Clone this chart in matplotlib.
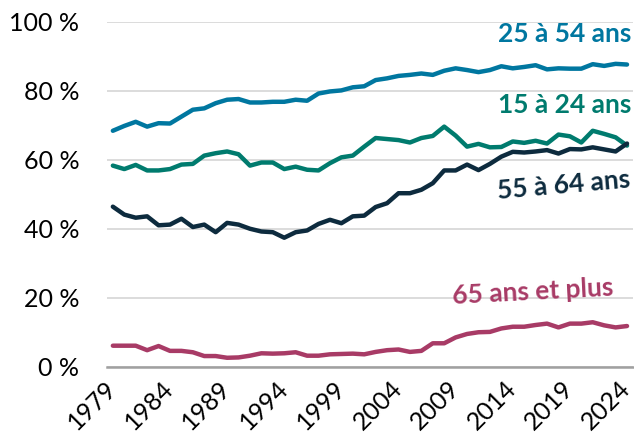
import numpy as np
import matplotlib
matplotlib.use("Agg")
import matplotlib.pyplot as plt

plt.rcParams['font.family'] = ['Lato', 'DejaVu Sans']

# taux d'emploi par groupe d'âge, 1979-2024 (%)
years = np.arange(1979, 2025)

age_25_54 = [68.4, 69.8, 71.0, 69.6, 70.6, 70.5, 72.5, 74.5, 74.9, 76.4,
             77.4, 77.6, 76.6, 76.6, 76.8, 76.8, 77.4, 77.1, 79.2, 79.8,
             80.1, 81.0, 81.3, 83.1, 83.6, 84.3, 84.6, 85.0, 84.6, 85.8,
             86.5, 86.0, 85.4, 86.0, 87.1, 86.5, 86.9, 87.4, 86.2, 86.5,
             86.4, 86.4, 87.7, 87.2, 87.8, 87.6]

age_15_24 = [58.3, 57.3, 58.5, 56.9, 56.9, 57.3, 58.6, 58.8, 61.2, 61.9,
             62.4, 61.6, 58.3, 59.2, 59.2, 57.3, 58.0, 57.1, 56.9, 59.0,
             60.7, 61.2, 63.8, 66.3, 66.0, 65.7, 65.0, 66.3, 66.9, 69.6,
             67.0, 63.8, 64.6, 63.6, 63.7, 65.3, 64.9, 65.5, 64.7, 67.3,
             66.8, 65.0, 68.4, 67.5, 66.5, 64.1]

age_55_64 = [46.4, 44.1, 43.2, 43.6, 41.0, 41.2, 42.9, 40.5, 41.2, 39.0,
             41.7, 41.2, 40.0, 39.2, 39.0, 37.4, 39.0, 39.5, 41.4, 42.6,
             41.6, 43.6, 43.8, 46.3, 47.4, 50.3, 50.3, 51.3, 53.2, 56.9,
             56.9, 58.6, 57.0, 58.8, 60.9, 62.3, 62.1, 62.4, 62.8, 61.8,
             63.1, 63.0, 63.6, 63.0, 62.4, 64.7]

age_65_plus = [6.1, 6.1, 6.1, 4.8, 6.0, 4.6, 4.6, 4.2, 3.1, 3.1,
               2.6, 2.7, 3.2, 3.9, 3.8, 3.9, 4.2, 3.2, 3.2, 3.6,
               3.7, 3.8, 3.6, 4.3, 4.8, 5.0, 4.3, 4.6, 6.8, 6.8,
               8.5, 9.5, 10.0, 10.1, 11.1, 11.6, 11.6, 12.1, 12.5, 11.4,
               12.5, 12.5, 12.9, 12.0, 11.4, 11.8]

labels = ["25 à 54 ans", "15 à 24 ans", "55 à 64 ans", "65 ans et plus"]
colors = ["#0077A0", "#007B6E", "#0D2B3E", "#A83B66"]
series = [age_25_54, age_15_24, age_55_64, age_65_plus]

fig = plt.figure(figsize=(6.34, 4.44), dpi=100)
ax = fig.add_axes([0.169, 0.174, 0.829, 0.777])

for vals, c in zip(series, colors):
    ax.plot(years, vals, color=c, lw=3.2, solid_capstyle='round',
            solid_joinstyle='round', zorder=3)

ax.set_xlim(1978.5, 2024.5)
ax.set_ylim(0, 100)
ax.set_yticks(np.arange(0, 101, 20))
ax.set_yticklabels([f"{v} %" for v in range(0, 101, 20)], fontsize=18)
ax.grid(axis='y', color='#d9d9d9', lw=1.3, zorder=0)
ax.set_axisbelow(True)

xt = years[::5]
ax.set_xticks(xt)
ax.set_xticklabels([str(y) for y in xt], fontsize=18, rotation=45,
                   ha='right', va='center', rotation_mode='anchor')

ax.tick_params(axis='y', length=0, pad=20)
ax.tick_params(axis='x', length=0, pad=13)
for side in ['top', 'right', 'left']:
    ax.spines[side].set_visible(False)
ax.spines['bottom'].set_color('#a0a0a0')
ax.spines['bottom'].set_linewidth(1.8)
ax.spines['bottom'].set_zorder(1)

# étiquettes des séries
ax.text(2024.4, 96.4, labels[0], color=colors[0], fontsize=19,
        fontweight='bold', ha='right', va='center')
ax.text(2024.4, 76.0, labels[1], color=colors[1], fontsize=19,
        fontweight='bold', ha='right', va='center')
ax.text(2018.5, 52.5, labels[2], color=colors[2], fontsize=19,
        fontweight='bold', ha='center', va='center', rotation=5)
ax.text(2015.8, 21.8, labels[3], color=colors[3], fontsize=19,
        fontweight='bold', ha='center', va='center', rotation=3)

fig.savefig("out.png", dpi=100)
